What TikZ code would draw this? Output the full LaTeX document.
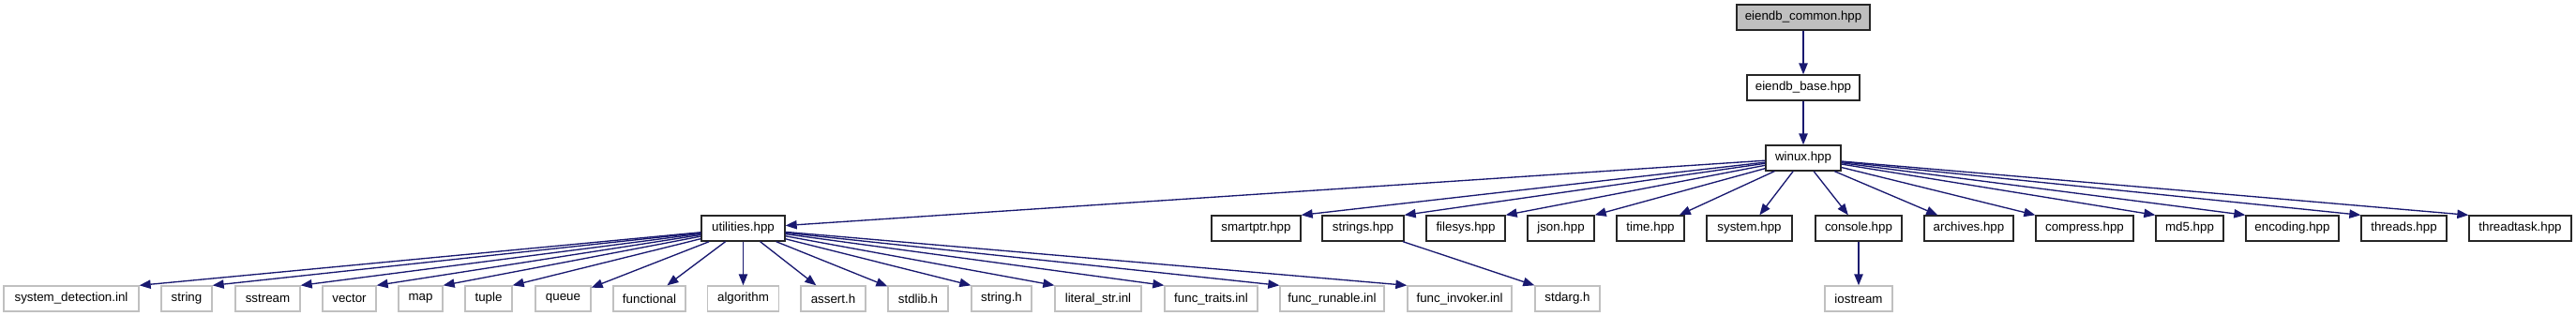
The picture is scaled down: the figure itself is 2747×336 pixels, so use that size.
\documentclass[tikz,border=0pt]{standalone}
\usepackage{fontspec}
\setmainfont{Liberation Sans}
\usetikzlibrary{arrows.meta}
\definecolor{edgeblue}{HTML}{191970}
\definecolor{rootgray}{HTML}{BFBFBF}
\definecolor{sysgray}{HTML}{C0C0C0}
\begin{document}
\begin{tikzpicture}[x=0.75pt,y=-0.75pt,
  boxn/.style={rectangle, minimum height=20.25pt, minimum width=#1*0.75pt, inner sep=0pt,
    font=\fontsize{10}{12}\selectfont, line width=1pt},
  proj/.style={boxn=#1, draw=black!85, fill=white},
  rootn/.style={boxn=#1, draw=black!85, fill=rootgray},
  sysn/.style={boxn=#1, draw=sysgray, fill=white},
  conn/.style={draw=edgeblue, line width=1pt, -{Triangle[length=9pt,width=7pt]}}]
\useasboundingbox (0,0) rectangle (2747,336);
% row 0-2
\node[rootn=142] (common) at (1923,18.5) {eiendb\_common.hpp};
\node[proj=120] (base) at (1923,93.5) {eiendb\_base.hpp};
\node[proj=80] (winux) at (1923,168.5) {winux.hpp};
% row 3
\node[proj=89] (util) at (792.5,243.5) {utilities.hpp};
\node[proj=95] (smartptr) at (1339.5,243.5) {smartptr.hpp};
\node[proj=87] (strings) at (1453.5,243.5) {strings.hpp};
\node[proj=84] (filesys) at (1563,243.5) {filesys.hpp};
\node[proj=71] (json) at (1664.5,243.5) {json.hpp};
\node[proj=72] (time) at (1760,243.5) {time.hpp};
\node[proj=91] (system) at (1865.5,243.5) {system.hpp};
\node[proj=92] (console) at (1982,243.5) {console.hpp};
\node[proj=95] (archives) at (2099.5,243.5) {archives.hpp};
\node[proj=104] (compress) at (2223,243.5) {compress.hpp};
\node[proj=72] (md5) at (2335,243.5) {md5.hpp};
\node[proj=99] (encoding) at (2444.5,243.5) {encoding.hpp};
\node[proj=91] (threads) at (2563.5,243.5) {threads.hpp};
\node[proj=109] (threadtask) at (2687.5,243.5) {threadtask.hpp};
% row 4
\node[sysn=144] (sysdet) at (76,318.5) {system\_detection.inl};
\node[sysn=54] (string) at (199,318.5) {string};
\node[sysn=69] (sstream) at (285.5,318.5) {sstream};
\node[sysn=57] (vector) at (372.5,318.5) {vector};
\node[sysn=47] (map) at (448.5,318.5) {map};
\node[sysn=50] (tuple) at (521,318.5) {tuple};
\node[sysn=59] (queue) at (600.5,318.5) {queue};
\node[sysn=77] (functional) at (692.5,318.5) {functional};
\node[sysn=76] (algorithm) at (792.5,318.5) {algorithm};
\node[sysn=69] (assert) at (888.5,318.5) {assert.h};
\node[sysn=64] (stdlib) at (979,318.5) {stdlib.h};
\node[sysn=64] (stringh) at (1068,318.5) {string.h};
\node[sysn=92] (literal) at (1171,318.5) {literal\_str.inl};
\node[sysn=99] (traits) at (1291.5,318.5) {func\_traits.inl};
\node[sysn=111] (runable) at (1420.5,318.5) {func\_runable.inl};
\node[sysn=111] (invoker) at (1556.5,318.5) {func\_invoker.inl};
\node[sysn=69] (stdarg) at (1671.5,318.5) {stdarg.h};
\node[sysn=72] (iostream) at (1982,318.5) {iostream};
% edges top
\draw[conn] (common) -- (base);
\draw[conn] (base) -- (winux);
% winux edges
\draw[conn] (winux) -- (util);
\draw[conn] (winux) -- (smartptr.north east);
\draw[conn] (winux) -- (strings.north east);
\draw[conn] (winux) -- (filesys.north east);
\draw[conn] (winux) -- (json.north east);
\draw[conn] (winux) -- (time);
\draw[conn] (winux) -- (system);
\draw[conn] (winux) -- (console);
\draw[conn] (winux) -- (archives);
\draw[conn] (winux) -- (compress.north west);
\draw[conn] (winux) -- (md5.north west);
\draw[conn] (winux) -- (encoding.north west);
\draw[conn] (winux) -- (threads.north west);
\draw[conn] (winux) -- (threadtask.north west);
% utilities edges
\draw[conn] (util) -- (sysdet.north east);
\draw[conn] (util) -- (string.north east);
\draw[conn] (util) -- (sstream.north east);
\draw[conn] (util) -- (vector.north east);
\draw[conn] (util) -- (map.north east);
\draw[conn] (util) -- (tuple.north east);
\draw[conn] (util) -- (queue);
\draw[conn] (util) -- (functional);
\draw[conn] (util) -- (algorithm);
\draw[conn] (util) -- (assert);
\draw[conn] (util) -- (stdlib);
\draw[conn] (util) -- (stringh.north west);
\draw[conn] (util) -- (literal.north west);
\draw[conn] (util) -- (traits.north west);
\draw[conn] (util) -- (runable.north west);
\draw[conn] (util) -- (invoker.north west);
% others
\draw[conn] (strings) -- (stdarg.north west);
\draw[conn] (console) -- (iostream);
\end{tikzpicture}
\end{document}
